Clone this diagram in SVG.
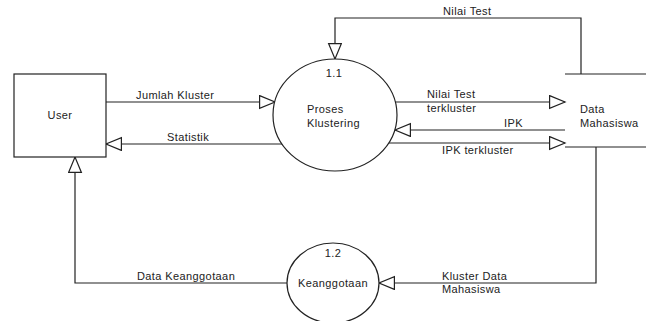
<svg xmlns="http://www.w3.org/2000/svg" width="646" height="321" viewBox="0 0 646 321">
<style>
  .ln{fill:none;stroke:#222;stroke-width:1.2}
  .shape{fill:#fff;stroke:#222;stroke-width:1.2}
  text{font-family:"Liberation Sans",Arial,sans-serif;font-size:11px;fill:#222;letter-spacing:0.4px}
  .mid{text-anchor:middle}
</style>
<defs>
  <marker id="arr" markerUnits="userSpaceOnUse" markerWidth="18" markerHeight="15" refX="16" refY="7" orient="auto" viewBox="0 0 18 15">
    <path d="M0.6,0.6 L16,7 L0.6,13.4 Z" fill="#fff" stroke="#222" stroke-width="1.2"/>
  </marker>
</defs>
<rect width="646" height="321" fill="#fff"/>
<g id="connectors">
  <line class="ln" x1="106" y1="102" x2="275" y2="102" marker-end="url(#arr)"/>
  <line class="ln" x1="282" y1="144" x2="106" y2="144" marker-end="url(#arr)"/>
  <polyline class="ln" points="581,74 581,18 335,18 335,59" marker-end="url(#arr)"/>
  <line class="ln" x1="395" y1="102" x2="565" y2="102" marker-end="url(#arr)"/>
  <line class="ln" x1="565" y1="130" x2="395" y2="130" marker-end="url(#arr)"/>
  <line class="ln" x1="389" y1="143" x2="565" y2="143" marker-end="url(#arr)"/>
  <polyline class="ln" points="596,147 596,283 379,283" marker-end="url(#arr)"/>
  <polyline class="ln" points="287,283 75,283 75,157" marker-end="url(#arr)"/>
  <text x="136" y="99">Jumlah Kluster</text>
  <text x="167" y="141">Statistik</text>
  <text x="443" y="15">Nilai Test</text>
  <text x="427" y="98">Nilai Test</text>
  <text x="427" y="112">terkluster</text>
  <text x="504" y="127">IPK</text>
  <text x="442" y="154">IPK terkluster</text>
  <text x="137" y="280">Data Keanggotaan</text>
  <text x="442" y="280">Kluster Data</text>
  <text x="442" y="293">Mahasiswa</text>
</g>
<g id="user">
  <rect class="shape" x="14" y="74" width="92" height="83"/>
  <text class="mid" x="60" y="119">User</text>
</g>
<g id="proses-klustering">
  <ellipse class="shape" cx="335" cy="115" rx="62" ry="56"/>
  <text class="mid" x="334" y="77">1.1</text>
  <text x="307" y="113">Proses</text>
  <text x="307" y="127">Klustering</text>
</g>
<g id="data-mahasiswa">
  <line class="ln" x1="565" y1="74" x2="646" y2="74"/>
  <line class="ln" x1="565" y1="147" x2="646" y2="147"/>
  <text x="580" y="113">Data</text>
  <text x="580" y="127">Mahasiswa</text>
</g>
<g id="keanggotaan">
  <ellipse class="shape" cx="333" cy="283" rx="46" ry="40"/>
  <text class="mid" x="333" y="257">1.2</text>
  <text class="mid" x="333" y="287">Keanggotaan</text>
</g>
</svg>
